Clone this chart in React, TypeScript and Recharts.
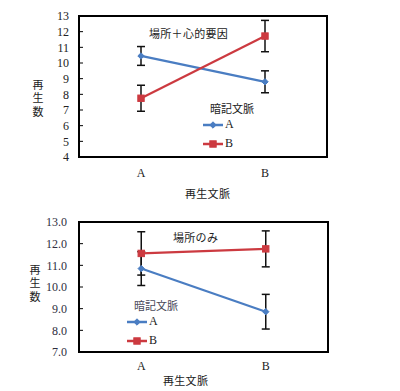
import React from "react";
import { ComposedChart, Line, XAxis, YAxis, ErrorBar, ReferenceArea } from "recharts";

// ---------- data ----------
const categories = ["A", "B"];
const seriesNames = ["A", "B"];

// top chart: 場所＋心的要因
const topValuesA = [10.45, 8.8];
const topErrA = [0.6, 0.7];
const topValuesB = [7.75, 11.72];
const topErrB = [0.83, 1.0];
const topTicks = [4, 5, 6, 7, 8, 9, 10, 11, 12, 13];

// bottom chart: 場所のみ
const botValuesA = [10.85, 8.86];
const botErrA = [0.78, 0.8];
const botValuesB = [11.55, 11.76];
const botErrB = [1.0, 0.83];
const botTicks = [7, 8, 9, 10, 11, 12, 13];

const topTitle = "場所＋心的要因";
const botTitle = "場所のみ";
const xTitle = "再生文脈";
const yTitle = "再生数";
const legendTitle = "暗記文脈";

// ---------- styles ----------
const BLUE = "#4a7dc2";
const RED = "#cc3a40";
const colors = [BLUE, RED];
const SERIF = "'Liberation Serif', 'Times New Roman', serif";
const JP = "'Noto Sans CJK JP', sans-serif";

const buildRows = (a: number[], ea: number[], b: number[], eb: number[]) =>
  categories.map((name, i) => ({ name, A: a[i], errA: ea[i], B: b[i], errB: eb[i] }));

const topData = buildRows(topValuesA, topErrA, topValuesB, topErrB);
const botData = buildRows(botValuesA, botErrA, botValuesB, botErrB);

const Diamond = (props: any) => {
  const { cx, cy } = props;
  if (cx == null || cy == null) return <g />;
  const r = 3.2;
  return (
    <path
      d={`M${cx},${cy - r}L${cx + r},${cy}L${cx},${cy + r}L${cx - r},${cy}Z`}
      fill={BLUE}
      stroke={BLUE}
    />
  );
};
const Square = (props: any) => {
  const { cx, cy } = props;
  if (cx == null || cy == null) return <g />;
  const r = 3.2;
  return <rect x={cx - r} y={cy - r} width={2 * r} height={2 * r} fill={RED} stroke={RED} />;
};

const makeYTick = (gap: number, fmt: (v: number) => string, color: string) => (props: any) => {
  const { x, y, payload } = props;
  return (
    <g>
      <line x1={x + gap} x2={x + gap + 4} y1={y} y2={y} stroke="#000" strokeWidth={1} />
      <text x={x} y={y} dy="0.35em" textAnchor="end" fontSize={12} fontFamily={SERIF} fill={color}>
        {fmt(payload.value)}
      </text>
    </g>
  );
};

const xTickStyle = { fontSize: 12, fontFamily: SERIF, fill: "#222" };

const Legend = ({ left, top, titleColor }: { left: number; top: number; titleColor: string }) => (
  <div style={{ position: "absolute", left, top, fontFamily: JP }}>
    <div style={{ fontSize: 11, lineHeight: "14px", color: titleColor, marginLeft: 7 }}>{legendTitle}</div>
    {seriesNames.map((n, i) => (
      <div key={n} style={{ display: "flex", alignItems: "center", height: 19 }}>
        <svg width={22} height={10}>
          <line x1={0} x2={20} y1={5} y2={5} stroke={colors[i]} strokeWidth={2.5} />
          {i === 0 ? <Diamond cx={10} cy={5} /> : <Square cx={10} cy={5} />}
        </svg>
        <span style={{ fontFamily: SERIF, fontSize: 12, color: "#222" }}>{n}</span>
      </div>
    ))}
  </div>
);

const VText = ({ left, top, text }: any) => (
  <div
    style={{
      position: "absolute",
      left,
      top,
      fontFamily: JP,
      fontSize: 11,
      color: "#222",
      writingMode: "vertical-rl",
      textOrientation: "upright",
      letterSpacing: 2.5,
      lineHeight: "12px",
    }}
  >
    {text}
  </div>
);

const Txt = ({ left, top, text, size = 11, spacing = 0.3, color = "#222" }: any) => (
  <div
    style={{
      position: "absolute",
      left,
      top,
      fontFamily: JP,
      fontSize: size,
      letterSpacing: spacing,
      color,
      lineHeight: "14px",
      whiteSpace: "nowrap",
    }}
  >
    {text}
  </div>
);

const Panel = ({ data, domain, ticks, fmt, margin, yGap, xGap, tickColor, height }: any) => (
  <ComposedChart width={400} height={height} data={data} margin={margin}>
    <XAxis
      dataKey="name"
      scale="band"
      tickLine={false}
      tickSize={0}
      tickMargin={xGap}
      axisLine={false}
      tick={xTickStyle}
    />
    <YAxis
      width={40}
      domain={domain}
      ticks={ticks}
      interval={0}
      type="number"
      tickLine={false}
      tickSize={0}
      tickMargin={yGap}
      axisLine={false}
      tick={makeYTick(yGap, fmt, tickColor)}
    />
    <ReferenceArea y1={domain[0]} y2={domain[1]} fill="none" stroke="#000" strokeWidth={2} ifOverflow="visible" />
    <Line dataKey="A" stroke={BLUE} strokeWidth={2.2} dot={<Diamond />} activeDot={false} isAnimationActive={false}>
      <ErrorBar dataKey="errA" stroke="#111" strokeWidth={1.5} width={4} direction="y" />
    </Line>
    <Line dataKey="B" stroke={RED} strokeWidth={2.2} dot={<Square />} activeDot={false} isAnimationActive={false}>
      <ErrorBar dataKey="errB" stroke="#111" strokeWidth={1.5} width={4} direction="y" />
    </Line>
  </ComposedChart>
);

export default function App() {
  return (
    <div style={{ position: "absolute", left: 0, top: 0, width: 400, height: 391, background: "#fff", overflow: "hidden" }}>
      <div style={{ position: "absolute", left: 0, top: 0 }}>
        <Panel
          data={topData}
          domain={[4, 13]}
          ticks={topTicks}
          fmt={(v: number) => String(v)}
          margin={{ top: 16, right: 73, bottom: 13, left: 39 }}
          yGap={10}
          xGap={11}
          tickColor="#222"
          height={200}
        />
      </div>
      <div style={{ position: "absolute", left: 0, top: 200 }}>
        <Panel
          data={botData}
          domain={[7, 13]}
          ticks={botTicks}
          fmt={(v: number) => v.toFixed(1)}
          margin={{ top: 22, right: 72, bottom: 9, left: 39 }}
          yGap={12}
          xGap={9}
          tickColor="#2e2e3e"
          height={191}
        />
      </div>

      {/* top panel texts */}
      <Txt left={149} top={26} text={topTitle} />
      <VText left={32} top={79} text={yTitle} />
      <Txt left={185} top={186} text={xTitle} />
      <Legend left={203} top={101} titleColor="#222" />

      {/* bottom panel texts */}
      <Txt left={173} top={230} text={botTitle} />
      <VText left={29} top={264} text={yTitle} />
      <Txt left={163} top={373} text={xTitle} />
      <Legend left={127} top={298} titleColor="#4a4a5a" />
    </div>
  );
}
